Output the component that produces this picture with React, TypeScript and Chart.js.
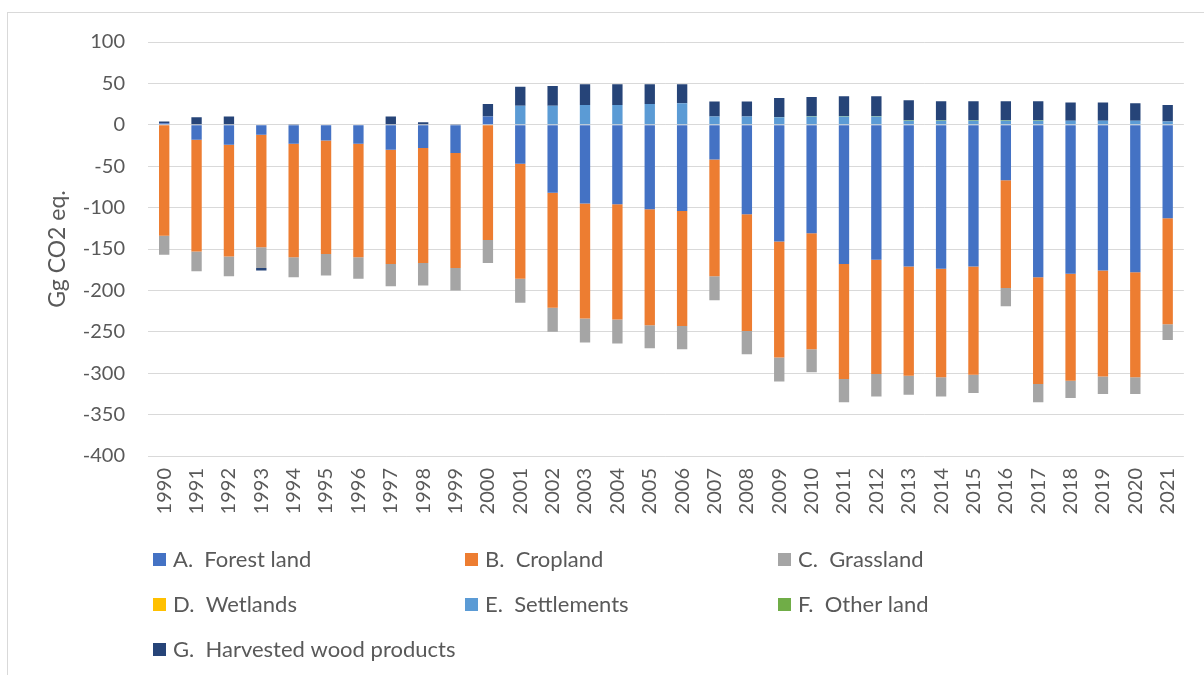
import React, { useEffect, useRef } from "react";
import { Chart, registerables } from "chart.js";

Chart.register(...registerables);

const years = [
  "1990", "1991", "1992", "1993", "1994", "1995", "1996", "1997", "1998", "1999",
  "2000", "2001", "2002", "2003", "2004", "2005", "2006", "2007", "2008", "2009",
  "2010", "2011", "2012", "2013", "2014", "2015", "2016", "2017", "2018", "2019",
  "2020", "2021",
];

const forestLand = [
  2, -18, -24, -12, -23, -19, -23, -30, -28, -34,
  10, -47, -82, -95, -96, -102, -104, -42, -108, -141,
  -131, -168, -163, -171, -174, -171, -67, -184, -180, -176,
  -178, -113,
];
const cropland = [
  -134, -135, -135, -136, -137, -137, -137, -138, -139, -139,
  -139, -139, -139, -139, -139, -140, -139, -141, -141, -140,
  -140, -139, -138, -132, -131, -131, -130, -129, -129, -128,
  -127, -128,
];
const grassland = [
  -23, -24, -24, -25, -24, -26, -26, -27, -27, -27,
  -28, -29, -29, -29, -29, -28, -28, -29, -28, -29,
  -28, -28, -27, -23, -23, -22, -22, -22, -21, -21,
  -20, -19,
];
const wetlands = [
  0, 0, 0, 0, 0, 0, 0, 0, 0, 0,
  0, 0, 0, 0, 0, 0, 0, 0, 0, 0,
  0, 0, 0, 0, 0, 0, 0, 0, 0, 0,
  0, 0,
];
const settlements = [
  0, 0, 0, 0, 0, 0, 0, 0, 0, 0,
  0, 23, 23, 24, 24, 25, 26, 10, 10, 9,
  10, 10, 10, 5, 5, 5, 5, 5, 5, 5,
  5, 4,
];
const otherLand = [
  0, 0, 0, 0, 0, 0, 0, 0, 0, 0,
  0, 0, 0, 0, 0, 0, 0, 0, 0, 0.5,
  0.5, 0.5, 0.5, 0.5, 0.5, 0.5, 0.5, 0.5, 0, 0,
  0, 0,
];
const harvestedWood = [
  2, 9, 10, -3, 0.5, 0, 0, 10, 3, 1,
  15, 23, 24, 25, 25, 24, 23, 18, 18, 23,
  23, 24, 24, 24, 23, 23, 23, 23, 22, 22,
  21, 20,
];

const seriesLabels = [
  "A.  Forest land",
  "B.  Cropland",
  "C.  Grassland",
  "D.  Wetlands",
  "E.  Settlements",
  "F.  Other land",
  "G.  Harvested wood products",
];
const seriesColors = ["#4472C4", "#ED7D31", "#A5A5A5", "#FFC000", "#5B9BD5", "#70AD47", "#264478"];
const seriesData = [forestLand, cropland, grassland, wetlands, settlements, otherLand, harvestedWood];

const yTicks = [100, 50, 0, -50, -100, -150, -200, -250, -300, -350, -400];

const FONT = "Lato, 'Open Sans', sans-serif";
const TEXT = "#595959";

const legendPlugin = {
  id: "gridLegend",
  afterDraw(chart: any) {
    const ctx = chart.ctx;
    const cols = [153, 465, 778];
    const rows = [560, 605, 650];
    ctx.save();
    ctx.font = `22px ${FONT}`;
    ctx.textBaseline = "middle";
    ctx.textAlign = "left";
    seriesLabels.forEach((label, i) => {
      const x = cols[i % 3];
      const y = rows[Math.floor(i / 3)];
      ctx.fillStyle = seriesColors[i];
      ctx.fillRect(x, y - 7, 13, 13);
      ctx.fillStyle = TEXT;
      ctx.fillText(label, x + 20, y);
    });
    ctx.restore();
  },
};

export default function App() {
  const ref = useRef<HTMLCanvasElement | null>(null);

  useEffect(() => {
    if (!ref.current) return;
    const chart = new Chart(ref.current, {
      type: "bar",
      data: {
        labels: years,
        datasets: seriesData.map((d, i) => ({
          label: seriesLabels[i],
          data: d,
          backgroundColor: seriesColors[i],
          borderWidth: 0,
          categoryPercentage: 1,
          barPercentage: 0.32,
        })),
      },
      options: {
        responsive: false,
        animation: false,
        devicePixelRatio: 1,
        layout: { padding: { left: 40, top: 42, right: 20, bottom: 159 } },
        plugins: {
          legend: { display: false },
          tooltip: { enabled: false },
        },
        scales: {
          x: {
            stacked: true,
            grid: { display: false, drawTicks: false },
            border: { display: false },
            ticks: {
              autoSkip: false,
              maxRotation: 90,
              minRotation: 90,
              padding: 12,
              color: TEXT,
              font: { family: FONT, size: 20 },
            },
            afterFit: (s: any) => {
              s.height = 60;
            },
          },
          y: {
            stacked: true,
            min: -400,
            max: 100,
            afterBuildTicks: (s: any) => {
              s.ticks = yTicks.map((v) => ({ value: v }));
            },
            grid: { color: "#d9d9d9", lineWidth: 1, drawTicks: false },
            border: { display: false },
            ticks: {
              padding: 23,
              color: TEXT,
              font: { family: FONT, size: 20 },
            },
            title: {
              display: true,
              text: "Gg CO2 eq.",
              color: TEXT,
              font: { family: FONT, size: 23 },
              padding: { top: 4, bottom: 0 },
            },
            afterFit: (s: any) => {
              s.width = 108;
            },
          },
        },
      },
      plugins: [legendPlugin],
    });
    return () => chart.destroy();
  }, []);

  return (
    <>
      <div
        style={{
          position: "fixed",
          left: 7,
          top: 12,
          width: 1197,
          height: 663,
          boxSizing: "border-box",
          borderTop: "1px solid #d9d9d9",
          borderLeft: "1px solid #d9d9d9",
          pointerEvents: "none",
        }}
      />
      <canvas
        ref={ref}
        width={1204}
        height={675}
        style={{ position: "fixed", left: 0, top: 0, width: 1204, height: 675 }}
      />
    </>
  );
}
